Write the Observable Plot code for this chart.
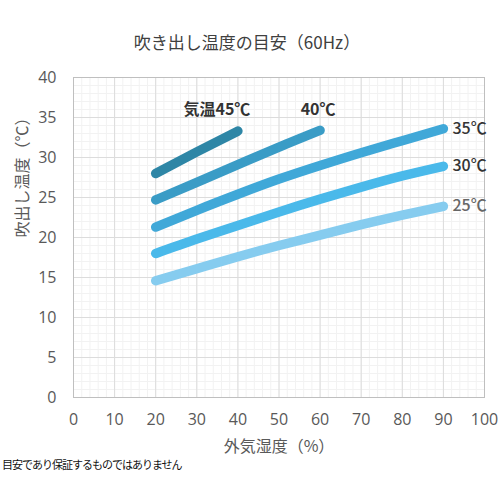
<!DOCTYPE html>
<html>
<head>
<meta charset="utf-8">
<script src="https://cdn.jsdelivr.net/npm/d3@7"></script>
<script src="https://cdn.jsdelivr.net/npm/@observablehq/plot@0.6"></script>
<style>
  body { margin: 0; background: #fff; font-family: "Noto Sans CJK JP", "Noto Sans", sans-serif; }
  #wrap { width: 500px; }
  #title { height: 60px; box-sizing: border-box; padding-top: 31px; padding-right: 6px; text-align: center; font-size: 17px; color: #404040; line-height: 22px; }
  #note { font-size: 11px; letter-spacing: -1px; color: #111; padding-left: 2px; line-height: 14px; }
</style>
</head>
<body>
<div id="wrap">
  <div id="title">吹き出し温度の目安（60Hz）</div>
  <div id="chart"></div>
  <div id="note">目安であり保証するものではありません</div>
</div>
<script>
// 外気湿度（%）
const hum = [20, 30, 40, 50, 60, 70, 80, 90]
// 吹出し温度（℃） 気温別
const t45 = [28.0, 30.7, 33.3]
const t40 = [24.7, 26.9, 29.1, 31.3, 33.4]
const t35 = [21.3, 23.4, 25.4, 27.3, 29.0, 30.6, 32.1, 33.6]
const t30 = [18.0, 19.8, 21.5, 23.2, 24.8, 26.3, 27.7, 28.9]
const t25 = [14.6, 16.1, 17.6, 19.0, 20.3, 21.6, 22.8, 23.9]
const series = [45, 40, 35, 30, 25]
const colors = ["#2e86a6", "#3a9cc6", "#40a8d8", "#4ab9ea", "#86ccef"]
const xTicks = d3.range(0, 101, 10)
const yTicks = d3.range(0, 41, 5)

let rows = []
;[t45, t40, t35, t30, t25].forEach((ts, i) => {
  ts.forEach((t, j) => rows.push({h: hum[j], t: t, s: series[i]}))
})

let chart = Plot.plot({
  width: 500,
  height: 397,
  marginTop: 17,
  marginLeft: 73,
  marginRight: 16,
  marginBottom: 60,
  style: {fontFamily: "'Noto Sans CJK JP', sans-serif", overflow: "visible"},
  x: {domain: [0, 100], axis: null},
  y: {domain: [0, 40], axis: null},
  color: {domain: series, range: colors},
  marks: [
    Plot.gridX(d3.range(0, 101, 2), {stroke: "#f2f2f2", strokeOpacity: 1}),
    Plot.gridY(d3.range(0, 41, 1), {stroke: "#f2f2f2", strokeOpacity: 1}),
    Plot.gridX(xTicks, {stroke: "#dcdcdc", strokeOpacity: 1}),
    Plot.gridY(yTicks, {stroke: "#dcdcdc", strokeOpacity: 1}),
    Plot.frame({stroke: "#bfbfbf"}),
    Plot.axisX(xTicks, {tickSize: 0, tickPadding: 16, fontSize: 16, fontFamily: "'Open Sans', sans-serif", fill: "#595959", label: null}),
    Plot.axisY(yTicks, {tickSize: 0, tickPadding: 17, fontSize: 16, fontFamily: "'Open Sans', sans-serif", fill: "#595959", label: null}),
    Plot.text(["外気湿度（%）"], {frameAnchor: "bottom", lineAnchor: "middle", dy: 49, fontSize: 16, fill: "#595959"}),
    Plot.text(["吹出し温度（℃）"], {frameAnchor: "left", dx: -51, rotate: -90, fontSize: 16, fill: "#595959"}),
    Plot.line(rows, {x: "h", y: "t", z: "s", stroke: "s", strokeWidth: 9.5, strokeLinecap: "round", curve: "natural"}),
    Plot.text(rows.filter(d => d.s == 35 || d.s == 30), Plot.selectLast({x: "h", y: "t", z: "s", text: d => d.s + "℃", textAnchor: "start", dx: 9, fontSize: 16, fontWeight: 500, fill: "#333"})),
    Plot.text(rows.filter(d => d.s == 25), Plot.selectLast({x: "h", y: "t", z: "s", text: d => d.s + "℃", textAnchor: "start", dx: 9, fontSize: 16, fontWeight: 500, fill: "#666"})),
    Plot.text(rows.filter(d => d.s == 45), Plot.selectLast({x: "h", y: "t", text: d => "気温" + d.s + "℃", dx: -21, dy: -21, fontSize: 16, fontWeight: "bold", fill: "#333"})),
    Plot.text(rows.filter(d => d.s == 40), Plot.selectLast({x: "h", y: "t", text: d => d.s + "℃", dx: -2, dy: -20, fontSize: 16, fontWeight: "bold", fill: "#333"}))
  ]
})
d3.select("#chart").append(() => chart)
</script>
</body>
</html>
